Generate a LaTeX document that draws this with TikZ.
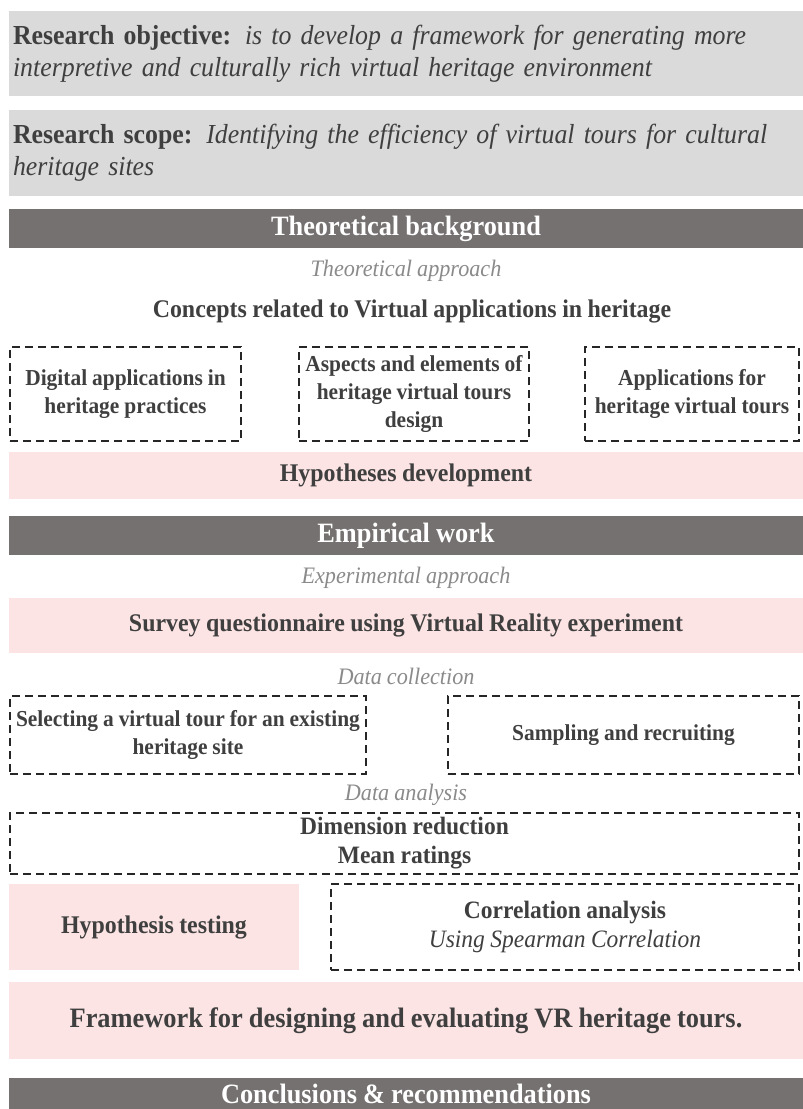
\documentclass[tikz,border=0pt]{standalone}
\usepackage{fontspec}
\setmainfont{Liberation Serif}[FakeStretch=0.94, WordSpace=0.92]

\definecolor{panelgrey}{HTML}{DADADA}
\definecolor{bargrey}{HTML}{767171}
\definecolor{softpink}{HTML}{FCE4E4}
\definecolor{inkgrey}{HTML}{3F3F3F}
\definecolor{notegrey}{HTML}{8A8A8A}

\newcommand\fsz[2]{\fontsize{#1}{#2}\selectfont}

\tikzset{
  sz/.style 2 args={minimum width=#1pt, minimum height=#2pt},
  block/.style={anchor=north west, inner sep=0pt, outer sep=0pt, align=center, text=inkgrey},
  panel/.style={block, fill=panelgrey, align=left, text width=786pt, inner xsep=3pt,
                font=\fsz{27.5}{32}},
  headbar/.style={block, fill=bargrey, text=white, font=\bfseries\fsz{28}{32}},
  pinkbox/.style={block, fill=softpink, font=\bfseries\fsz{25.4}{29}},
  dashbox/.style={block, draw=black!85, line width=1.5pt, dash pattern=on 8pt off 5pt,
                  font=\bfseries\fsz{22.8}{28}},
  note/.style={text=notegrey, font=\itshape\fsz{23.6}{26}, inner sep=0pt},
}

\begin{document}
\begin{tikzpicture}[x=1pt, y=-1pt]
  \useasboundingbox (0,0) rectangle (803,1109);
  \clip (0,0) rectangle (803,1109);

  % objective and scope
  \node[panel, sz={794}{85}] (obj) at (9,11)
    {\textbf{Research objective:}\textit{ is to develop a framework for generating more}\\
     \textit{interpretive and culturally rich virtual heritage environment}};
  \node[panel, sz={794}{86}] (scope) at (9,110)
    {\textbf{Research scope:}\textit{ Identifying the efficiency of virtual tours for cultural}\\
     \textit{heritage sites}};

  % theoretical part
  \node[headbar, sz={794}{39}] (theo) at (9,209) {Theoretical background};
  \node[note] (theoapp) at (406,271) {Theoretical approach};
  \node[text=inkgrey, font=\bfseries\fsz{25.4}{29}, inner sep=0pt] (concepts) at (412,311)
    {Concepts related to Virtual applications in heritage};
  \node[dashbox, sz={231}{94}] (digital) at (10,347)
    {Digital applications in\\heritage practices};
  \node[dashbox, sz={230}{94}] (aspects) at (299,347)
    {Aspects and elements of\\heritage virtual tours\\design};
  \node[dashbox, sz={214}{94}] (apps) at (585,347)
    {Applications for\\heritage virtual tours};
  \node[pinkbox, sz={794}{47}] (hypdev) at (9,452) {Hypotheses development};

  % empirical part
  \node[headbar, sz={794}{39}] (emp) at (9,516) {Empirical work};
  \node[note] (expapp) at (406,578) {Experimental approach};
  \node[pinkbox, sz={794}{55}] (survey) at (9,598)
    {Survey questionnaire using Virtual Reality experiment};
  \node[note] (datacol) at (406,676) {Data collection};
  \node[dashbox, sz={356}{78}] (select) at (10,696)
    {Selecting a virtual tour for an existing\\heritage site};
  \node[dashbox, sz={351}{78}] (sampling) at (448,696) {Sampling and recruiting};
  \node[note] (dataana) at (406,795) {Data analysis};
  \node[dashbox, sz={789}{61}, font=\bfseries\fsz{25}{29}] (dimred) at (10,813)
    {Dimension reduction\\Mean ratings};
  \node[pinkbox, sz={290}{86}] (hyptest) at (9,884) {Hypothesis testing};
  \node[dashbox, sz={468}{86}, font=\bfseries\fsz{25}{29}] (corr) at (331,884)
    {Correlation analysis\\\mdseries\itshape Using Spearman Correlation};
  \node[pinkbox, sz={794}{77}, font=\bfseries\fsz{28.1}{32}] (frame) at (9,982)
    {Framework for designing and evaluating VR heritage tours.};

  % closing bar along the lower edge
  \fill[bargrey] (9,1078) rectangle (803,1109);
  \node[headbar, fill=none, sz={794}{34}] (concl) at (9,1077) {Conclusions \& recommendations};
\end{tikzpicture}
\end{document}
